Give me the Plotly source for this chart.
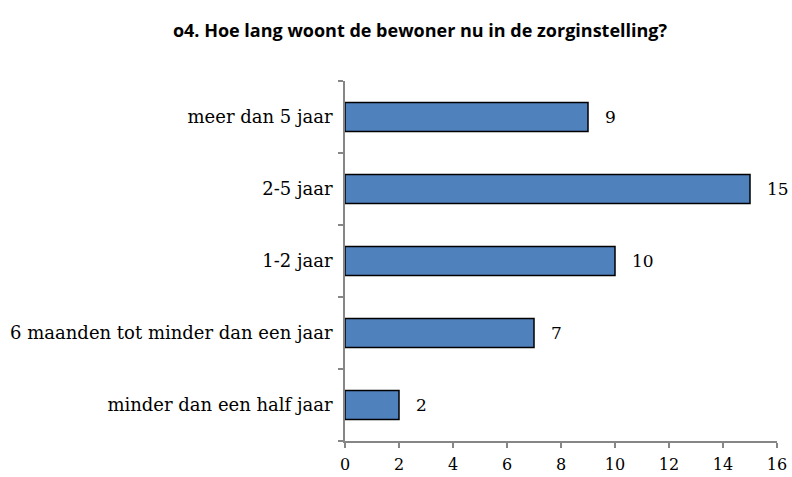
import plotly.graph_objects as go

categories = ["minder dan een half jaar", "6 maanden tot minder dan een jaar", "1-2 jaar", "2-5 jaar", "meer dan 5 jaar"]
values = [2, 7, 10, 15, 9]
x_ticks = [0, 2, 4, 6, 8, 10, 12, 14, 16]

SERIF = "DejaVu Serif"
W, H = 792, 477

fig = go.Figure()
fig.add_trace(go.Bar(
    y=categories, x=values, orientation="h",
    marker=dict(color="#4F81BD", line=dict(color="#000000", width=1.5)),
    width=0.4, showlegend=False, hoverinfo="skip",
))
for c, v in zip(categories, values):
    fig.add_annotation(x=v, y=c, text=str(v), showarrow=False, xanchor="left",
                       xshift=15, font=dict(family=SERIF, size=17, color="#000"))

fig.update_layout(
    width=W, height=H,
    margin=dict(l=345, r=15, t=81, b=36),
    paper_bgcolor="white", plot_bgcolor="white",
    title=dict(text="<b>o4. Hoe lang woont de bewoner nu in de zorginstelling?</b>",
               x=420/W, xanchor="center", xref="container",
               y=1-31/H, yanchor="middle", yref="container",
               font=dict(family="Open Sans", size=18, color="#000")),
    xaxis=dict(range=[0, 16], tickvals=x_ticks, ticktext=[str(t) for t in x_ticks],
               showgrid=False, zeroline=False, showline=True, linecolor="#868686", linewidth=1.5,
               ticks="outside", ticklen=5, tickcolor="#868686", tickwidth=1.5, automargin=False,
               ticklabelstandoff=3,
               tickfont=dict(family=SERIF, size=16, color="#000")),
    yaxis=dict(type="category", categoryorder="array", categoryarray=categories,
               showgrid=False, zeroline=False, showline=True, linecolor="#868686", linewidth=1.5,
               ticks="outside", ticklen=5, tickcolor="#868686", tickwidth=1.5, tickson="boundaries",
               ticklabelstandoff=7, automargin=False,
               tickfont=dict(family=SERIF, size=18, color="#000")),
)
fig.write_html(
    "out.html",
    config={"displayModeBar": False},
    post_script="document.body.style.margin='0';document.body.style.overflow='hidden';"
                "document.documentElement.style.overflow='hidden';",
)
